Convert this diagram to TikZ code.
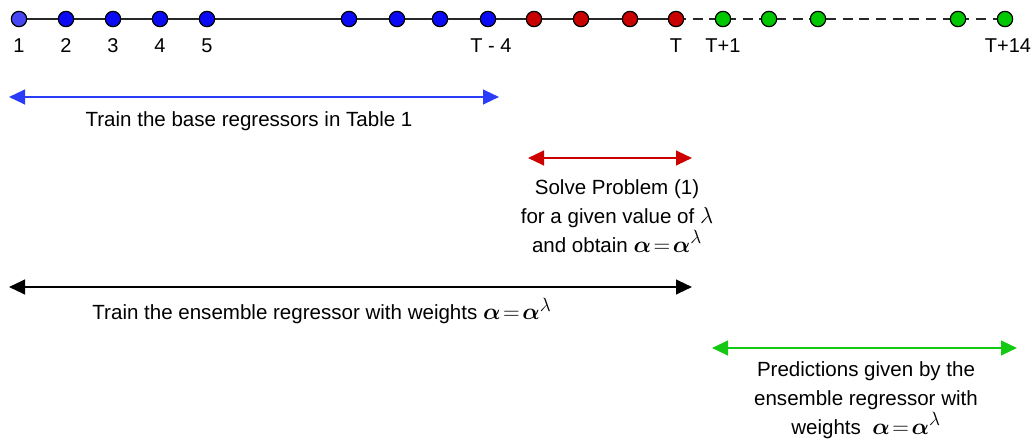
\documentclass[tikz,border=0pt]{standalone}
\usepackage{amsmath,amssymb,bm}
\usepackage{fontspec}
\setmainfont{Liberation Sans}
\usetikzlibrary{arrows.meta}
\definecolor{dotblue}{RGB}{10,10,245}
\definecolor{dotblueA}{RGB}{70,70,245}
\definecolor{dotred}{RGB}{200,0,0}
\definecolor{dotgreen}{RGB}{0,200,0}
\definecolor{arrblue}{RGB}{40,60,250}
\definecolor{arrred}{RGB}{205,0,0}
\definecolor{arrgreen}{RGB}{20,200,20}
\definecolor{linegray}{RGB}{40,40,40}
\tikzset{
  dot/.style={circle,draw=black,line width=0.9pt,minimum size=11.5pt,inner sep=0pt},
  tick/.style={font=\fontsize{15}{18}\selectfont,inner sep=0pt},
  lab/.style={font=\fontsize{15.4}{21.75}\selectfont,align=center,inner sep=0pt},
  span/.style={line width=1.6pt,{Triangle[length=12pt,width=11pt]}-{Triangle[length=12pt,width=11pt]}},
  axis/.style={line width=1.8pt,draw=linegray}
}
\newcommand{\aeq}{{\fontsize{19}{21.75}\selectfont$\bm{\alpha}\!=\!\bm{\alpha}^{\lambda}$}}
\newcommand{\lam}{{\fontsize{19}{21.75}\selectfont$\lambda$}}
\begin{document}
\begin{tikzpicture}[x=0.75pt,y=-0.75pt]
\useasboundingbox (0,0) rectangle (1033,446);
% nodes of the time line
\foreach \n/\x in {1/19,2/66,3/113,4/160,5/207,6/349,7/397,8/440,9/488,10/534,11/581,12/630,13/676,14/723,15/769,16/818,17/958,18/1005}
  \coordinate (c\n) at (\x,19);
\coordinate (cend) at (1012,19);
\draw[axis] (c1) -- (c13);
\draw[axis,dash pattern=on 7.5pt off 5pt] (c13) -- (cend);
\node[dot,fill=dotblueA] (p1) at (c1) {};
\foreach \n in {2,3,4,5,6,7,8,9} \node[dot,fill=dotblue] (p\n) at (c\n) {};
\foreach \n in {10,11,12,13} \node[dot,fill=dotred] (p\n) at (c\n) {};
\foreach \n in {14,15,16,17,18} \node[dot,fill=dotgreen] (p\n) at (c\n) {};
% tick labels
\node[tick] (t1) at (19,46) {1};
\node[tick] (t2) at (66,46) {2};
\node[tick] (t3) at (113,46) {3};
\node[tick] (t4) at (160,46) {4};
\node[tick] (t5) at (207,46) {5};
\node[tick] (tT4) at (491,46) {T - 4};
\node[tick] (tT) at (676,46) {T};
\node[tick] (tT1) at (723,46) {T+1};
\node[tick] (tT14) at (1008,46) {T+14};
% blue span
\coordinate (b1) at (9,97);
\coordinate (b2) at (499,97);
\draw[span,arrblue] (b1) -- (b2);
\node[lab] (lb) at (249,121) {Train the base regressors in Table 1};
% red span
\coordinate (r1) at (528,158);
\coordinate (r2) at (692,158);
\draw[span,arrred] (r1) -- (r2);
\node[lab] (lr) at (617,216) {Solve Problem (1)\\ for a given value of \lam\\ and obtain \aeq};
% black span
\coordinate (k1) at (9,287);
\coordinate (k2) at (692,287);
\draw[span,black] (k1) -- (k2);
\node[lab] (lk) at (322,311) {Train the ensemble regressor with weights \aeq};
% green span
\coordinate (g1) at (712,348);
\coordinate (g2) at (1017,348);
\draw[span,arrgreen] (g1) -- (g2);
\node[lab] (lg) at (866,400) {Predictions given by the\\ ensemble regressor with\\ weights \ \aeq};
\end{tikzpicture}
\end{document}
